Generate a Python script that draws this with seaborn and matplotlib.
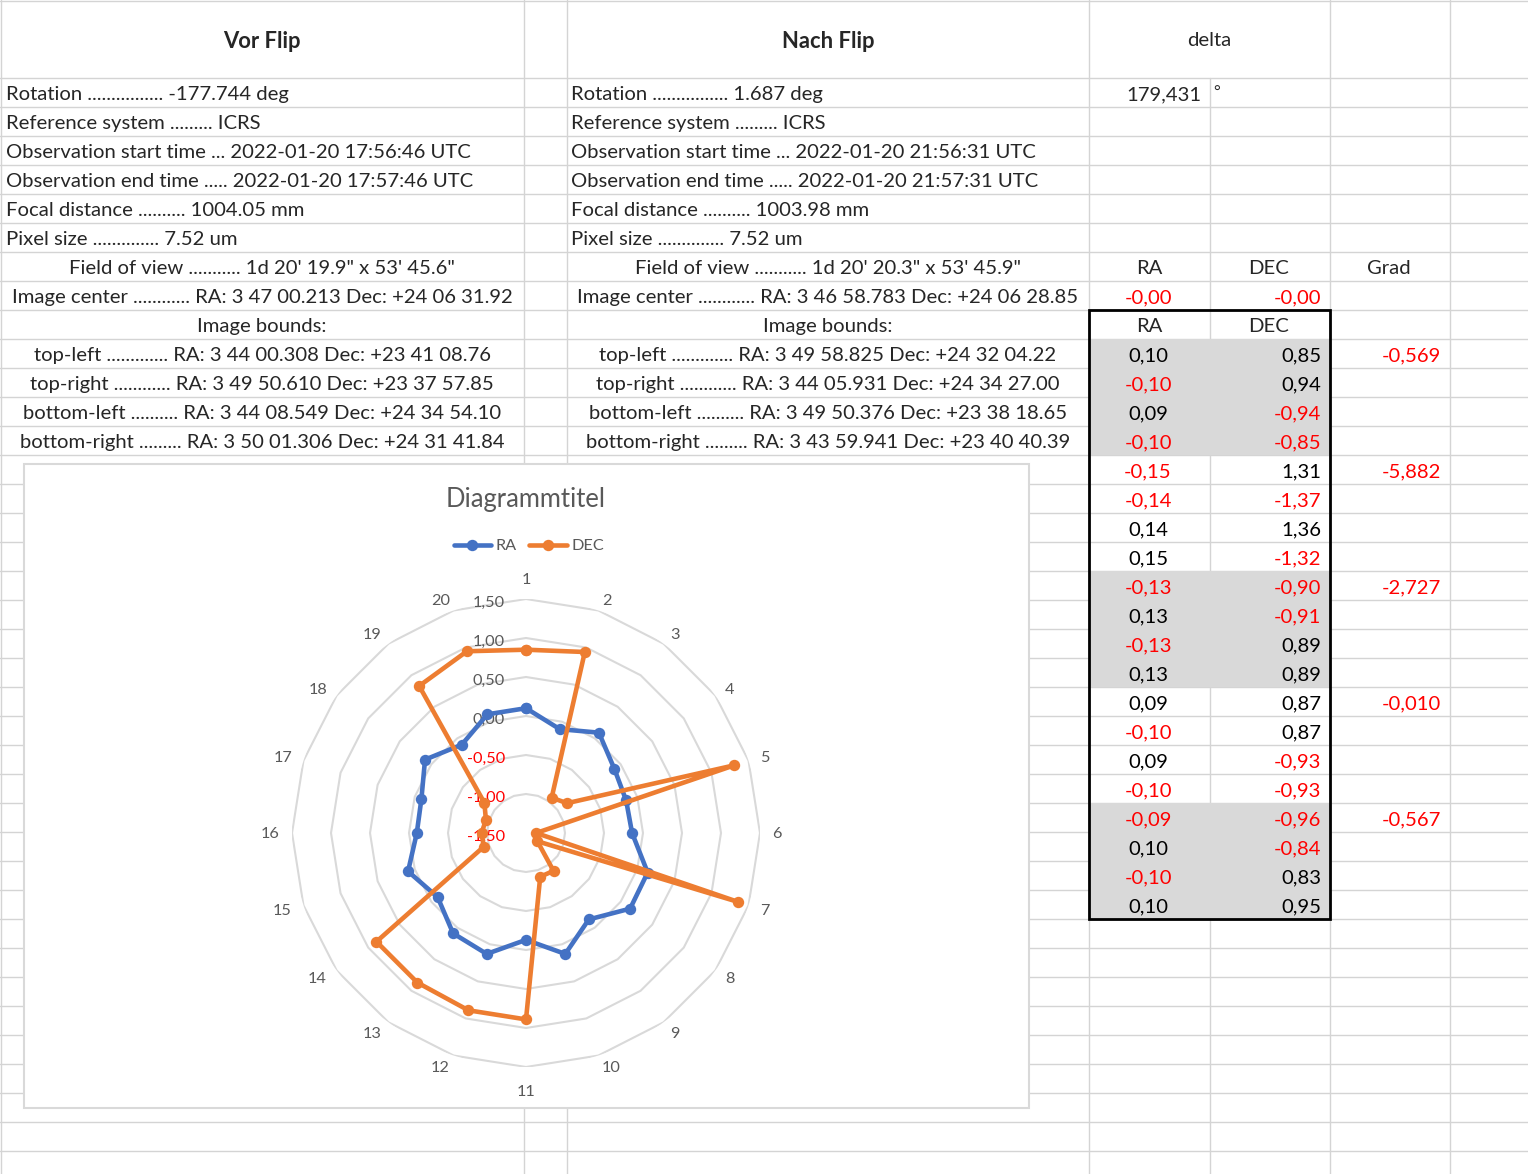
import numpy as np
import pandas as pd
import seaborn as sns
import matplotlib.pyplot as plt
from matplotlib.patches import Rectangle
from matplotlib.transforms import ScaledTranslation

# ---- data ----
ra = [0.10, -0.10, 0.09, -0.10, -0.15, -0.14, 0.14, 0.15, -0.13, 0.13,
      -0.13, 0.13, 0.09, -0.10, 0.09, -0.10, -0.09, 0.10, -0.10, 0.10]
dec = [0.85, 0.94, -0.94, -0.85, 1.31, -1.37, 1.36, -1.32, -0.90, -0.91,
       0.89, 0.89, 0.87, 0.87, -0.93, -0.93, -0.96, -0.84, 0.83, 0.95]
grad = [-0.569, -5.882, -2.727, -0.010, -0.567]
center_delta = [-0.001, -0.001]
rot_delta = "179,431"
categories = ['1', '2', '3', '4', '5', '6', '7', '8', '9', '10',
              '11', '12', '13', '14', '15', '16', '17', '18', '19', '20']
r_levels = [-1.5, -1.0, -0.5, 0.0, 0.5, 1.0, 1.5]

vor = ["Rotation ................ -177.744 deg",
       "Reference system ......... ICRS",
       "Observation start time ... 2022-01-20 17:56:46 UTC",
       "Observation end time ..... 2022-01-20 17:57:46 UTC",
       "Focal distance .......... 1004.05 mm",
       "Pixel size .............. 7.52 um",
       "Field of view ........... 1d 20' 19.9\" x 53' 45.6\"",
       "Image center ............ RA: 3 47 00.213 Dec: +24 06 31.92",
       "Image bounds:",
       "top-left ............. RA: 3 44 00.308 Dec: +23 41 08.76",
       "top-right ............ RA: 3 49 50.610 Dec: +23 37 57.85",
       "bottom-left .......... RA: 3 44 08.549 Dec: +24 34 54.10",
       "bottom-right ......... RA: 3 50 01.306 Dec: +24 31 41.84"]
nach = ["Rotation ................ 1.687 deg",
        "Reference system ......... ICRS",
        "Observation start time ... 2022-01-20 21:56:31 UTC",
        "Observation end time ..... 2022-01-20 21:57:31 UTC",
        "Focal distance .......... 1003.98 mm",
        "Pixel size .............. 7.52 um",
        "Field of view ........... 1d 20' 20.3\" x 53' 45.9\"",
        "Image center ............ RA: 3 46 58.783 Dec: +24 06 28.85",
        "Image bounds:",
        "top-left ............. RA: 3 49 58.825 Dec: +24 32 04.22",
        "top-right ............ RA: 3 44 05.931 Dec: +24 34 27.00",
        "bottom-left .......... RA: 3 49 50.376 Dec: +23 38 18.65",
        "bottom-right ......... RA: 3 43 59.941 Dec: +23 40 40.39"]

BLUE, ORANGE, GREY_TXT, RED = '#4472C4', '#ED7D31', '#595959', '#FF0000'
GRID = '#D4D4D4'
W, H = 1528, 1174

sns.set_style('white')
plt.rcParams['font.family'] = ['Lato', 'DejaVu Sans']

fig = plt.figure(figsize=(W / 100, H / 100), dpi=100)
renderer = fig.canvas.get_renderer()


def fit(text, px, weight='normal', start=15.0):
    t = fig.text(0, 0, text, fontsize=start, weight=weight)
    w = t.get_window_extent(renderer).width
    t.remove()
    return start * px / w


fs = fit(vor[2], 467)
fs_head = fit("Vor Flip", 78, weight='bold')
fs_title = fit("Diagrammtitel", 161)
fs_small = fs * 0.80

# ---- spreadsheet layer ----
ax0 = fig.add_axes([0, 0, 1, 1])
ax0.set_xlim(0, W)
ax0.set_ylim(H, 0)
ax0.axis('off')

cols = [1, 523.5, 567, 1089, 1209.5, 1329.5, 1449.5]
rows = [1] + list(np.arange(77.5, H + 29, 29))

for y in rows:
    ax0.plot([0, W], [y, y], color=GRID, lw=1, zorder=1)
for x in cols:
    y0 = rows[1] if x == 1209.5 else 0
    ax0.plot([x, x], [y0, H], color=GRID, lw=1, zorder=1)


def rc(i):
    # vertical centre of sheet row i (1 = Rotation row)
    return rows[i] + 17


# grey shading of the grouped rows
for start in [10, 18, 26]:
    ax0.add_patch(Rectangle((1089, rows[start]), 240.5, 29 * 4, facecolor='#D9D9D9',
                            edgecolor='none', zorder=2))

# headers
ax0.text(262, 42, "Vor Flip", ha='center', va='center', fontsize=fs_head, weight='bold', zorder=5)
ax0.text(828, 42, "Nach Flip", ha='center', va='center', fontsize=fs_head, weight='bold', zorder=5)
ax0.text(1209.5, 41, "delta", ha='center', va='center', fontsize=fs, zorder=5)

for i, (a, c) in enumerate(zip(vor, nach), start=1):
    if i <= 6:
        ax0.text(6, rc(i), a, ha='left', va='center', fontsize=fs, zorder=5)
        ax0.text(571, rc(i), c, ha='left', va='center', fontsize=fs, zorder=5)
    else:
        ax0.text(262, rc(i), a, ha='center', va='center', fontsize=fs, zorder=5)
        ax0.text(828, rc(i), c, ha='center', va='center', fontsize=fs, zorder=5)

ax0.text(1201, rc(1), rot_delta, ha='right', va='center', fontsize=fs, zorder=5)
ax0.text(1213, rc(1) - 2, "°", ha='left', va='center', fontsize=fs * 0.8, zorder=5)

ax0.text(1149, rc(7), "RA", ha='center', va='center', fontsize=fs, zorder=5)
ax0.text(1269, rc(7), "DEC", ha='center', va='center', fontsize=fs, zorder=5)
ax0.text(1389, rc(7), "Grad", ha='center', va='center', fontsize=fs, zorder=5)
ax0.text(1149, rc(9), "RA", ha='center', va='center', fontsize=fs, zorder=5)
ax0.text(1269, rc(9), "DEC", ha='center', va='center', fontsize=fs, zorder=5)


def fmt(v, d=2):
    return f"{v:.{d}f}".replace('.', ',')


ax0.text(1149, rc(8), fmt(center_delta[0]), ha='center', va='center', fontsize=fs,
         color=RED if center_delta[0] < 0 else 'black', zorder=5)
ax0.text(1321, rc(8), fmt(center_delta[1]), ha='right', va='center', fontsize=fs,
         color=RED if center_delta[1] < 0 else 'black', zorder=5)

for k, (a, d) in enumerate(zip(ra, dec)):
    y = rc(10 + k)
    ax0.text(1148, y, fmt(a), ha='center', va='center', fontsize=fs,
             color=RED if a < 0 else 'black', zorder=5)
    ax0.text(1321, y, fmt(d), ha='right', va='center', fontsize=fs,
             color=RED if d < 0 else 'black', zorder=5)
for k, g in enumerate(grad):
    ax0.text(1441, rc(10 + 4 * k), fmt(g, 3), ha='right', va='center', fontsize=fs,
             color=RED if g < 0 else 'black', zorder=5)

# black frame round the RA/DEC block
ax0.add_patch(Rectangle((1089, rows[9]), 240.5, rows[30] - rows[9], facecolor='none',
                        edgecolor='black', lw=2, zorder=4))

# chart area
ax0.add_patch(Rectangle((24, 464), 1005, 644, facecolor='white', edgecolor='#D9D9D9',
                        lw=1.5, zorder=3))
ax0.text(526, 499, "Diagrammtitel", ha='center', va='center', fontsize=fs_title,
         color=GREY_TXT, zorder=5)

# ---- radar chart ----
cx, cy, R = 526, 833, 234
axp = fig.add_axes([(cx - R) / W, 1 - (cy + R) / H, 2 * R / W, 2 * R / H], projection='polar')
axp.set_facecolor('none')
axp.set_theta_zero_location('N')
axp.set_theta_direction(-1)

theta = np.linspace(0, 2 * np.pi, len(categories) + 1)
df = pd.DataFrame({'theta': theta, 'RA': ra + ra[:1], 'DEC': dec + dec[:1]})

for lvl in r_levels[1:]:
    axp.plot(theta, [lvl] * len(theta), color='#D9D9D9', lw=1.5, zorder=1)

sns.lineplot(data=df, x='theta', y='RA', ax=axp, sort=False, color=BLUE, lw=3.3,
             marker='o', markersize=8.2, markeredgewidth=0, label='RA', zorder=4)
sns.lineplot(data=df, x='theta', y='DEC', ax=axp, sort=False, color=ORANGE, lw=3.3,
             marker='o', markersize=8.2, markeredgewidth=0, label='DEC', zorder=5)

axp.set_ylim(r_levels[0], r_levels[-1])
axp.set_xlim(0, 2 * np.pi)
axp.grid(False)
axp.spines['polar'].set_visible(False)
axp.set_xticks([])
axp.set_yticks([])
axp.set_xlabel('')
axp.set_ylabel('')

# category labels anchored just outside the outer ring, Excel style
px_per_unit = R / (r_levels[-1] - r_levels[0])
for th, lab in zip(theta[:-1], categories):
    s, c = np.sin(th), np.cos(th)
    r_lab = r_levels[0] + 246 / px_per_unit
    if abs(s) < 1e-6:
        ha = 'center'
        va = 'bottom' if c > 0 else 'top'
        if c < 0:
            r_lab = r_levels[0] + 252 / px_per_unit
    else:
        ha = 'left' if s > 0 else 'right'
        va = 'center_baseline'
    axp.text(th, r_lab, lab, ha=ha, va=va, fontsize=fs_small, color=GREY_TXT, clip_on=False)

shift = axp.transData + ScaledTranslation(-0.21, -0.04, fig.dpi_scale_trans)
for lvl in r_levels:
    axp.text(0, lvl, fmt(lvl), ha='right', va='center', fontsize=fs_small, transform=shift,
             color=RED if lvl < 0 else GREY_TXT, zorder=2)

handles, labels = axp.get_legend_handles_labels()
axp.get_legend().remove()
fig.legend(handles, labels, loc='center', bbox_to_anchor=(529 / W, 1 - 546 / H), ncol=2,
           frameon=False, fontsize=fs_small, handlelength=2.3, handletextpad=0.3,
           columnspacing=0.75, labelcolor=GREY_TXT)

fig.savefig('out.png', dpi=100)
